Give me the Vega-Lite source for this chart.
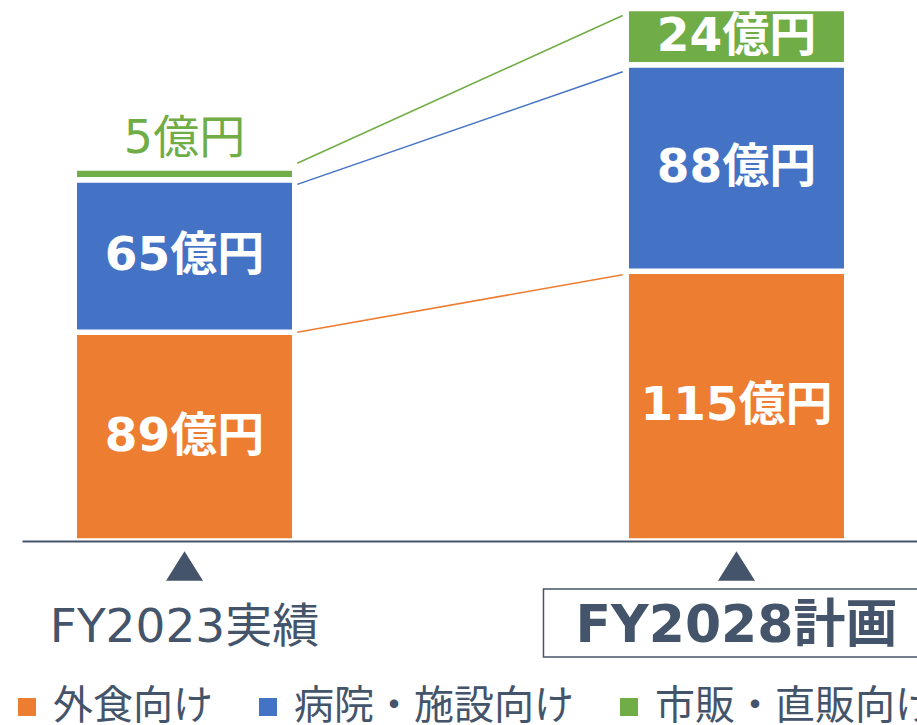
{
 "$schema": "https://vega.github.io/schema/vega-lite/v6.json",
 "width": 895,
 "height": 541,
 "autosize": {"type": "none"},
 "padding": {"left": 22, "top": 0, "right": 0, "bottom": 184},
 "background": "white",
 "config": {"view": {"stroke": null}},
 "datasets": {
  "sales": [
   {"year": "FY2023実績", "series": "外食向け", "k": 1, "value": 89, "label": "89億円"},
   {"year": "FY2023実績", "series": "病院・施設向け", "k": 2, "value": 65, "label": "65億円"},
   {"year": "FY2023実績", "series": "市販・直販向け", "k": 3, "value": 5, "label": "5億円"},
   {"year": "FY2028計画", "series": "外食向け", "k": 1, "value": 115, "label": "115億円"},
   {"year": "FY2028計画", "series": "病院・施設向け", "k": 2, "value": 88, "label": "88億円"},
   {"year": "FY2028計画", "series": "市販・直販向け", "k": 3, "value": 24, "label": "24億円"}
  ],
  "links": [
   {"series": "外食向け", "from": "FY2023実績", "to": "FY2028計画", "start": 89, "end": 113.5},
   {"series": "病院・施設向け", "from": "FY2023実績", "to": "FY2028計画", "start": 152, "end": 200},
   {"series": "市販・直販向け", "from": "FY2023実績", "to": "FY2028計画", "start": 161, "end": 224}
  ],
  "years": [{"year": "FY2023実績"}, {"year": "FY2028計画"}]
 },
 "layer": [
  {
   "data": {"name": "sales"},
   "mark": {"type": "bar", "stroke": "white", "strokeWidth": 5.5},
   "encoding": {
    "x": {
     "field": "year", "type": "nominal",
     "scale": {"type": "band", "domain": ["FY2023実績", "FY2028計画"], "paddingInner": 0.6005, "paddingOuter": 0.111, "align": 0.4265},
     "axis": {
      "title": null, "ticks": false, "domainColor": "#44546A", "domainWidth": 2,
      "labelFont": "DejaVu Sans, Noto Sans CJK JP",
      "labelFontSize": {"condition": {"test": "datum.value === 'FY2028計画'", "value": 52}, "value": 47},
      "labelFontWeight": {"condition": {"test": "datum.value === 'FY2028計画'", "value": "bold"}, "value": "normal"},
      "labelColor": "#44546A", "labelBaseline": "alphabetic", "labelPadding": 100,
      "labelAngle": 0, "labelLimit": 600, "labelOverlap": false, "labelFlush": false, "zindex": 1
     }
    },
    "y": {
     "field": "value", "type": "quantitative", "stack": "zero",
     "scale": {"domain": [0, 230.6], "nice": false, "zero": true},
     "axis": null
    },
    "color": {
     "field": "series", "type": "nominal",
     "sort": ["外食向け", "病院・施設向け", "市販・直販向け"],
     "scale": {"domain": ["外食向け", "病院・施設向け", "市販・直販向け"], "range": ["#ED7D31", "#4472C4", "#70AD47"]},
     "legend": {
      "title": null, "orient": "none", "legendX": -15, "legendY": 687, "direction": "horizontal", "padding": 0,
      "symbolType": "square", "symbolSize": 324, "symbolStrokeWidth": 0,
      "labelFont": "Noto Sans CJK JP", "labelFontSize": 40, "labelColor": "#44546A",
      "labelOffset": 6, "columnPadding": 35, "labelLimit": 500
     }
    },
    "order": {"field": "k", "type": "quantitative"}
   }
  },
  {
   "data": {"name": "links"},
   "mark": {"type": "rule", "strokeWidth": 1.5, "xOffset": 2.5, "x2Offset": -3.5},
   "encoding": {
    "x": {"field": "from", "type": "nominal", "bandPosition": 1},
    "x2": {"field": "to", "bandPosition": 0},
    "y": {"field": "start", "type": "quantitative"},
    "y2": {"field": "end"},
    "color": {"field": "series", "type": "nominal"}
   }
  },
  {
   "data": {"name": "sales"},
   "mark": {"type": "text", "font": "DejaVu Sans, Noto Sans CJK JP", "fontSize": 47, "fontWeight": "bold", "fill": "white", "baseline": "middle", "align": "center"},
   "encoding": {
    "x": {"field": "year", "type": "nominal"},
    "y": {"field": "value", "type": "quantitative", "stack": "zero", "bandPosition": 0.5},
    "detail": {"field": "series", "type": "nominal"},
    "order": {"field": "k", "type": "quantitative"},
    "text": {"field": "label"},
    "opacity": {"condition": {"test": "datum.k === 3 && datum.year === 'FY2023実績'", "value": 0}, "value": 1}
   }
  },
  {
   "data": {"name": "sales"},
   "mark": {"type": "text", "font": "DejaVu Sans, Noto Sans CJK JP", "fontSize": 46, "fontWeight": "normal", "fill": "#70AD47", "baseline": "alphabetic", "align": "center", "dy": -15},
   "encoding": {
    "x": {"field": "year", "type": "nominal"},
    "y": {"field": "value", "type": "quantitative", "stack": "zero", "bandPosition": 1},
    "detail": {"field": "series", "type": "nominal"},
    "order": {"field": "k", "type": "quantitative"},
    "text": {"field": "label"},
    "opacity": {"condition": {"test": "datum.k === 3 && datum.year === 'FY2023実績'", "value": 1}, "value": 0}
   }
  },
  {
   "data": {"name": "years"},
   "mark": {"type": "point", "shape": "M0,-0.8L-1,0.8L1,0.8Z", "size": 1369, "filled": true, "fill": "#44546A", "strokeWidth": 0, "opacity": 1, "yOffset": 25},
   "encoding": {
    "x": {"field": "year", "type": "nominal"},
    "y": {"datum": 0, "type": "quantitative"}
   }
  },
  {
   "data": {"name": "years"},
   "transform": [{"filter": "datum.year === 'FY2028計画'"}],
   "mark": {"type": "point", "shape": "M-1,-0.1735L1,-0.1735L1,0.1735L-1,0.1735Z", "size": 153664, "filled": false, "stroke": "#44546A", "strokeWidth": 1.5, "opacity": 1, "xOffset": 3, "yOffset": 82},
   "encoding": {
    "x": {"field": "year", "type": "nominal"},
    "y": {"datum": 0, "type": "quantitative"}
   }
  }
 ]
}
